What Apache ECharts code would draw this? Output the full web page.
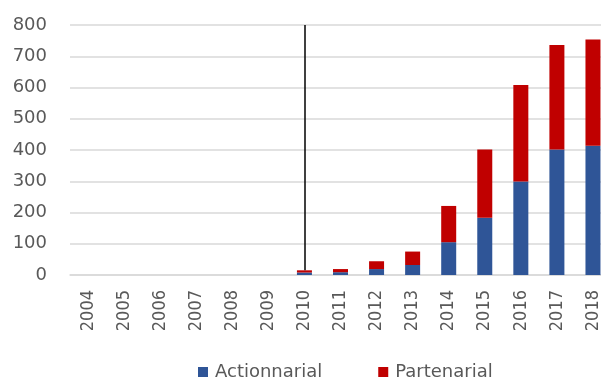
<!DOCTYPE html>
<html>
<head>
<meta charset="utf-8">
<script src="https://cdn.jsdelivr.net/npm/echarts@6/dist/echarts.min.js"></script>
<style>
html,body{margin:0;padding:0;background:#fff;overflow:hidden;width:601px;height:380px;}
#chart{width:612px;height:380px;}
</style>
</head>
<body>
<div id="chart"></div>
<script>
const years = ['2004','2005','2006','2007','2008','2009','2010','2011','2012','2013','2014','2015','2016','2017','2018'];
const actionnarial = [0,0,0,0,0,0,8,9,19,32,105,183,299,402,414];
const partenarial  = [0,0,0,0,0,0,7,10,25,43,116,219,309,334,340];
const yTicks = [0,100,200,300,400,500,600,700,800];
const markerYear = '2010';
const markerTop = 800;
const markerBottom = 15;

const chart = echarts.init(document.getElementById('chart'), null, {renderer:'canvas'});
chart.setOption({
  animation:false,
  backgroundColor:'#ffffff',
  grid:{left:70, top:25, height:250, width:541, containLabel:false},
  legend:{
    left:193, top:358,
    itemWidth:10, itemHeight:10, itemGap:56,
    icon:'rect',
    textStyle:{fontFamily:'DejaVu Sans', fontSize:18, color:'#595959', lineHeight:18, padding:[0,0,0,2]},
    data:['Actionnarial','Partenarial']
  },
  xAxis:{
    type:'category',
    data:years,
    axisTick:{show:false},
    axisLine:{lineStyle:{color:'#d9d9d9', width:1.5}},
    axisLabel:{rotate:90, margin:15, interval:0, fontFamily:'Liberation Sans Narrow, DejaVu Sans Condensed, sans-serif', fontSize:18, color:'#595959'}
  },
  yAxis:{
    type:'value',
    min:yTicks[0], max:yTicks[yTicks.length-1], interval:100,
    axisLine:{show:false}, axisTick:{show:false},
    splitLine:{lineStyle:{color:'#d9d9d9', width:1.5}},
    axisLabel:{margin:23, fontFamily:'DejaVu Sans', fontSize:18, color:'#595959'}
  },
  series:[
    {name:'Actionnarial', type:'bar', stack:'total', data:actionnarial, barWidth:15,
     itemStyle:{color:'#2F5597'}},
    {name:'Partenarial', type:'bar', stack:'total', data:partenarial, barWidth:15,
     itemStyle:{color:'#C00000'},
     markLine:{
       silent:true, symbol:['none','none'], label:{show:false},
       lineStyle:{color:'#000000', width:1.5, type:'solid'},
       data:[[{coord:[markerYear, markerTop]},{coord:[markerYear, markerBottom]}]]
     }}
  ]
});
</script>
</body>
</html>
